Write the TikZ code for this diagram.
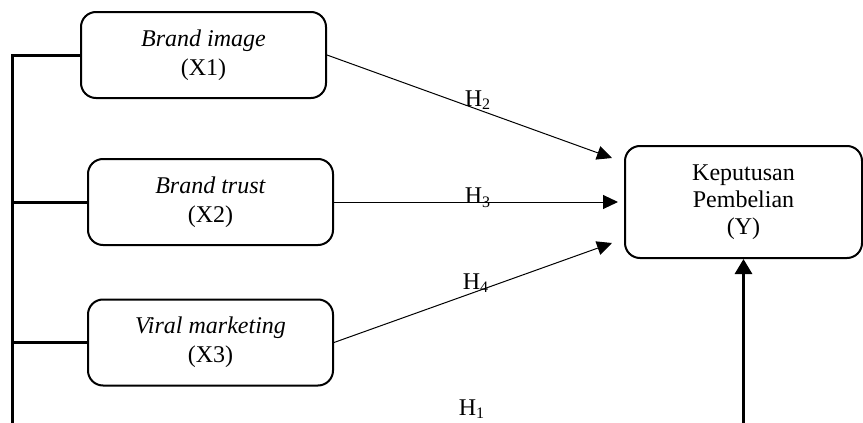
\documentclass[tikz,border=0pt]{standalone}
\usepackage{fontspec}
\setmainfont{Liberation Serif}
\usetikzlibrary{arrows.meta}
\tikzset{
    varbox/.style={draw,line width=1pt,rounded corners=7.5pt,minimum width=122.5pt,
        minimum height=43pt,align=center,font=\fontsize{12}{14.5}\selectfont},
    hyp/.style={line width=0.5pt,-{Triangle[length=7.5pt,width=7pt]}},
    bar/.style={line width=1.5pt}
}
\begin{document}
\begin{tikzpicture}[x=0.5pt,y=-0.5pt,font=\fontsize{12}{14}\selectfont]
        \clip (0,0) rectangle (863,423);
        % variables
        \node[varbox] (x1) at (203.5,55) {\textit{Brand image}\\(X1)};
        \node[varbox] (x2) at (210.5,202) {\textit{Brand trust}\\(X2)};
        \node[varbox] (x3) at (210.5,342.5) {\textit{Viral marketing}\\(X3)};
        \node[varbox,minimum width=118.5pt,minimum height=56pt,
            font=\fontsize{12}{13.5}\selectfont] (y) at (743.5,202) {Keputusan\\Pembelian\\(Y)};
        % partial effects
        \coordinate (t2) at (612,158);
        \coordinate (t3) at (618,202);
        \coordinate (t4) at (612,243);
        \draw[hyp] (x1.east) -- (t2);
        \draw[hyp] (x2.east) -- (t3);
        \draw[hyp] (x3.east) -- (t4);
        \node (h2) at (478,100) {H\textsubscript{2}};
        \node (h3) at (478,198) {H\textsubscript{3}};
        \node (h4) at (476,283) {H\textsubscript{4}};
        % simultaneous effect
        \coordinate (tl) at (12,55);
        \coordinate (bl) at (12,460);
        \draw[bar] (x2.west) -- (x2.west -| tl);
        \draw[bar] (x3.west) -- (x3.west -| tl);
        \draw[bar,-{Triangle[length=7.5pt,width=8.5pt]}] (x1.west) -- (tl) -- (bl) -| (y.south);
        \node (h1) at (472,409) {H\textsubscript{1}};
\end{tikzpicture}
\end{document}
